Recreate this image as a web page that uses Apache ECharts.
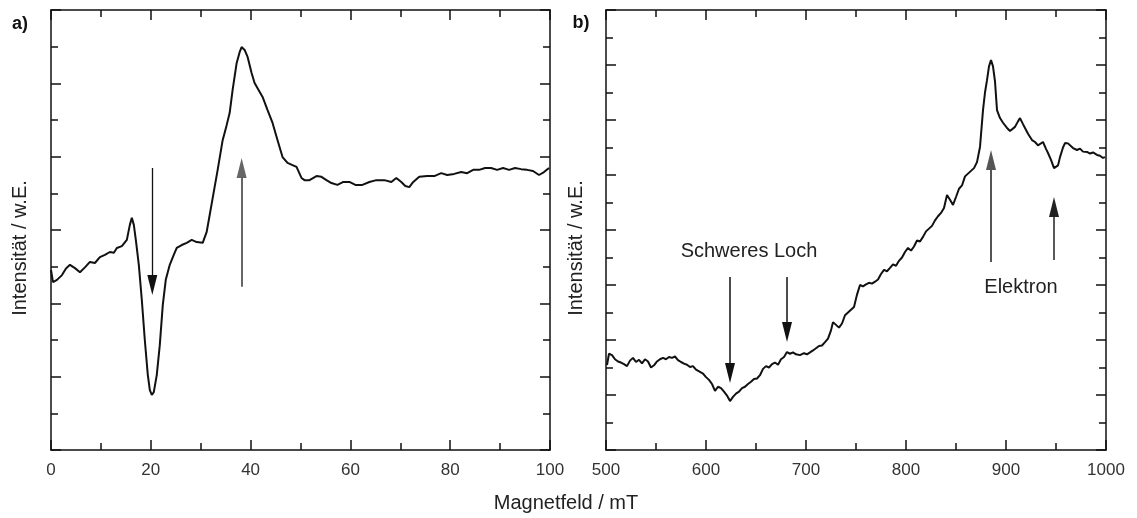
<!DOCTYPE html>
<html>
<head>
<meta charset="utf-8">
<script src="https://cdn.jsdelivr.net/npm/echarts@6/dist/echarts.min.js"></script>
<style>
html,body{margin:0;padding:0;background:#fff;}
#c{width:1137px;height:518px;}
</style>
</head>
<body>
<div id="c"></div>
<script>
// ---- Panel a data: [Magnetfeld (mT), Intensität (arb. units)] ----
const curveA = [[0,4.91],[0.4,4.58],[1.2,4.64],[2.2,4.77],[3.0,4.95],[3.8,5.05],[4.8,4.96],[5.8,4.85],[6.8,4.98],[7.8,5.13],[8.8,5.10],[9.8,5.26],[10.8,5.32],[11.8,5.40],[12.6,5.38],[13.2,5.51],[14.2,5.56],[15.2,5.73],[15.8,6.14],[16.2,6.33],[16.6,6.14],[17.0,5.73],[17.6,5.05],[18.2,4.09],[18.8,3.00],[19.4,2.05],[19.8,1.64],[20.2,1.50],[20.6,1.58],[21.2,2.05],[21.8,2.86],[22.4,3.95],[23.0,4.64],[23.8,5.05],[24.6,5.32],[25.2,5.51],[26.2,5.59],[27.2,5.65],[28.2,5.73],[29.2,5.67],[30.4,5.65],[31.2,5.95],[31.8,6.41],[32.4,6.87],[33.4,7.64],[34.4,8.45],[35.2,8.86],[35.8,9.19],[36.4,9.82],[37.2,10.55],[37.8,10.85],[38.2,10.99],[38.8,10.91],[39.4,10.72],[40.2,10.28],[40.8,10.01],[41.6,9.82],[42.4,9.63],[43.4,9.27],[44.4,8.92],[45.4,8.45],[46.4,7.99],[47.4,7.83],[48.4,7.77],[49.2,7.72],[50.2,7.42],[50.8,7.36],[51.8,7.36],[53.2,7.47],[54.2,7.45],[55.2,7.36],[56.2,7.28],[57.4,7.23],[58.6,7.31],[59.8,7.31],[61.0,7.23],[62.4,7.23],[63.8,7.31],[65.2,7.36],[66.8,7.36],[68.2,7.31],[69.2,7.42],[70.2,7.31],[71.0,7.20],[71.8,7.17],[72.6,7.31],[73.8,7.45],[75.4,7.47],[76.8,7.47],[78.2,7.55],[79.4,7.50],[80.8,7.53],[82.2,7.58],[83.4,7.55],[84.6,7.64],[85.8,7.64],[87.0,7.69],[88.2,7.69],[89.4,7.64],[90.6,7.69],[91.8,7.64],[93.0,7.69],[94.2,7.66],[95.4,7.64],[96.6,7.61],[97.8,7.50],[98.8,7.58],[99.8,7.69]];

// ---- Panel b data ----
const curveB = [[501,3.09],[503,3.50],[506,3.45],[509,3.30],[512,3.22],[515,3.18],[518,3.12],[521,3.05],[524,3.25],[527,3.35],[530,3.20],[533,3.28],[536,3.15],[539,3.30],[542,3.22],[545,3.00],[548,3.08],[551,3.22],[554,3.30],[557,3.35],[560,3.30],[563,3.38],[566,3.35],[569,3.40],[572,3.27],[575,3.20],[578,3.14],[581,3.10],[584,3.02],[587,3.05],[590,2.92],[594,2.84],[597,2.78],[600,2.65],[603,2.55],[606,2.40],[609,2.15],[612,2.30],[615,2.25],[618,2.12],[621,1.98],[624,1.78],[627,1.93],[630,2.05],[633,2.12],[636,2.25],[639,2.30],[642,2.40],[645,2.48],[648,2.58],[651,2.60],[654,2.72],[657,2.95],[660,3.05],[663,3.00],[666,3.12],[669,3.18],[672,3.10],[675,3.30],[678,3.38],[681,3.56],[684,3.50],[687,3.55],[690,3.48],[694,3.45],[698,3.52],[701,3.48],[704,3.55],[707,3.62],[710,3.70],[713,3.78],[716,3.80],[719,3.92],[722,4.05],[725,4.35],[727,4.65],[730,4.55],[733,4.45],[736,4.60],[739,4.90],[742,5.00],[745,5.10],[748,5.20],[751,5.65],[754,6.00],[757,5.95],[760,6.02],[763,6.08],[766,6.05],[769,6.12],[772,6.20],[775,6.40],[778,6.55],[781,6.50],[784,6.62],[787,6.75],[790,6.70],[793,6.88],[796,7.00],[799,7.20],[802,7.35],[805,7.25],[808,7.40],[811,7.62],[814,7.58],[817,7.75],[820,7.95],[823,8.05],[826,8.15],[829,8.35],[832,8.50],[835,8.62],[838,8.80],[841,9.27],[844,9.10],[847,8.91],[850,9.20],[853,9.50],[856,9.62],[859,9.95],[862,10.05],[865,10.15],[868,10.25],[871,10.47],[874,11.02],[877,12.36],[879,13.00],[881,13.45],[883,13.95],[885,14.18],[887,13.95],[889,13.40],[891,12.36],[894,12.07],[897,11.90],[901,11.71],[904,11.60],[906,11.53],[909,11.75],[912,11.95],[914,12.07],[917,11.85],[919,11.71],[922,11.50],[926,11.27],[929,11.20],[932,11.08],[934,11.02],[937,11.20],[940,10.95],[942,10.80],[945,10.55],[948,10.25],[950,10.18],[952,10.35],[954,10.65],[957,11.00],[959,11.16],[962,11.15],[964,11.09],[967,10.98],[971,10.91],[974,10.96],[977,10.85],[981,10.84],[984,10.78],[987,10.82],[991,10.73],[994,10.70],[997,10.62],[999,10.65]];

// ---- Annotation arrows [x, yStart, yEnd] in data units ----
const arrowsA = [[20.3, 7.69, 4.50], [38.2, 4.45, 7.69]];
const arrowsB = [[624, 6.29, 2.80], [681, 6.29, 4.29], [885, 6.84, 10.55], [948, 6.91, 8.84]];

// ---- Axis ranges ----
const xTicksA = {min: 0, max: 100, interval: 20};
const xTicksB = {min: 500, max: 1000, interval: 100};
const yTicksA = {min: 0, max: 12, interval: 2};
const yTicksB = {min: 0, max: 16, interval: 2};

const FONT = 'Liberation Sans, Arial, sans-serif';
const axisColor = '#111';

function mkX(grid, t, pos, showLabel) {
  return {
    type: 'value', gridIndex: grid, position: pos, min: t.min, max: t.max, interval: t.interval,
    axisLine: {show: true, onZero: false, lineStyle: {color: axisColor, width: 1.5}},
    axisTick: {show: true, inside: true, length: 10, lineStyle: {color: axisColor, width: 1.5}},
    minorTick: {show: true, splitNumber: 2, length: 7, lineStyle: {color: axisColor, width: 1.5}},
    splitLine: {show: false}, minorSplitLine: {show: false},
    axisLabel: {show: showLabel, margin: 12, color: '#333', fontSize: 17, fontFamily: FONT,
      showMinLabel: true, showMaxLabel: true, hideOverlap: false, formatter: v => String(v)}
  };
}
function mkY(grid, t, pos) {
  return {
    type: 'value', gridIndex: grid, position: pos, min: t.min, max: t.max, interval: t.interval,
    axisLine: {show: true, onZero: false, lineStyle: {color: axisColor, width: 1.5}},
    axisTick: {show: true, inside: true, length: 10, lineStyle: {color: axisColor, width: 1.5}},
    minorTick: {show: true, splitNumber: 2, length: 7, lineStyle: {color: axisColor, width: 1.5}},
    splitLine: {show: false}, minorSplitLine: {show: false},
    axisLabel: {show: false}
  };
}

function arrowLines(arr, colors, widths) {
  return arr.map((a, i) => [
    {coord: [a[0], a[1]], symbol: 'none', lineStyle: {color: colors[i], width: widths[i]}},
    {coord: [a[0], a[2]], symbol: 'triangle', symbolSize: [10, 20]}
  ]);
}

const chart = echarts.init(document.getElementById('c'), null, {renderer: 'canvas'});
chart.setOption({
  backgroundColor: '#fff',
  animation: false,
  grid: [
    {left: 51, top: 10, width: 499, height: 440},
    {left: 606, top: 10, width: 500, height: 440}
  ],
  xAxis: [
    mkX(0, xTicksA, 'bottom', true), mkX(0, xTicksA, 'top', false),
    mkX(1, xTicksB, 'bottom', true), mkX(1, xTicksB, 'top', false)
  ],
  yAxis: [
    mkY(0, yTicksA, 'left'), mkY(0, yTicksA, 'right'),
    mkY(1, yTicksB, 'left'), mkY(1, yTicksB, 'right')
  ],
  series: [
    {
      type: 'line', xAxisIndex: 0, yAxisIndex: 0, data: curveA,
      showSymbol: false, lineStyle: {color: '#111', width: 2}, silent: true,
      markLine: {silent: true, animation: false, label: {show: false},
        lineStyle: {type: 'solid'},
        data: arrowLines(arrowsA, ['#111', '#666'], [1.3, 2])}
    },
    {
      type: 'line', xAxisIndex: 2, yAxisIndex: 2, data: curveB,
      showSymbol: false, lineStyle: {color: '#111', width: 2}, silent: true,
      markLine: {silent: true, animation: false, label: {show: false},
        lineStyle: {type: 'solid'},
        data: arrowLines(arrowsB, ['#111', '#111', '#555', '#222'], [1.5, 1.5, 2, 1.5])}
    }
  ],
  graphic: [
    {type: 'text', x: 20, y: 24, style: {text: 'a)', font: 'bold 18px ' + FONT, fill: '#111', textAlign: 'center', textVerticalAlign: 'middle'}},
    {type: 'text', x: 581, y: 23, style: {text: 'b)', font: 'bold 18px ' + FONT, fill: '#111', textAlign: 'center', textVerticalAlign: 'middle'}},
    {type: 'text', x: 20, y: 248, rotation: Math.PI / 2, style: {text: 'Intensität / w.E.', font: '20px ' + FONT, fill: '#222', textAlign: 'center', textVerticalAlign: 'middle'}},
    {type: 'text', x: 576, y: 248, rotation: Math.PI / 2, style: {text: 'Intensität / w.E.', font: '20px ' + FONT, fill: '#222', textAlign: 'center', textVerticalAlign: 'middle'}},
    {type: 'text', x: 566, y: 503, style: {text: 'Magnetfeld / mT', font: '20px ' + FONT, fill: '#222', textAlign: 'center', textVerticalAlign: 'middle'}},
    {type: 'text', x: 749, y: 251, style: {text: 'Schweres Loch', font: '20px ' + FONT, fill: '#222', textAlign: 'center', textVerticalAlign: 'middle'}},
    {type: 'text', x: 1021, y: 287, style: {text: 'Elektron', font: '20px ' + FONT, fill: '#222', textAlign: 'center', textVerticalAlign: 'middle'}}
  ]
});
</script>
</body>
</html>
